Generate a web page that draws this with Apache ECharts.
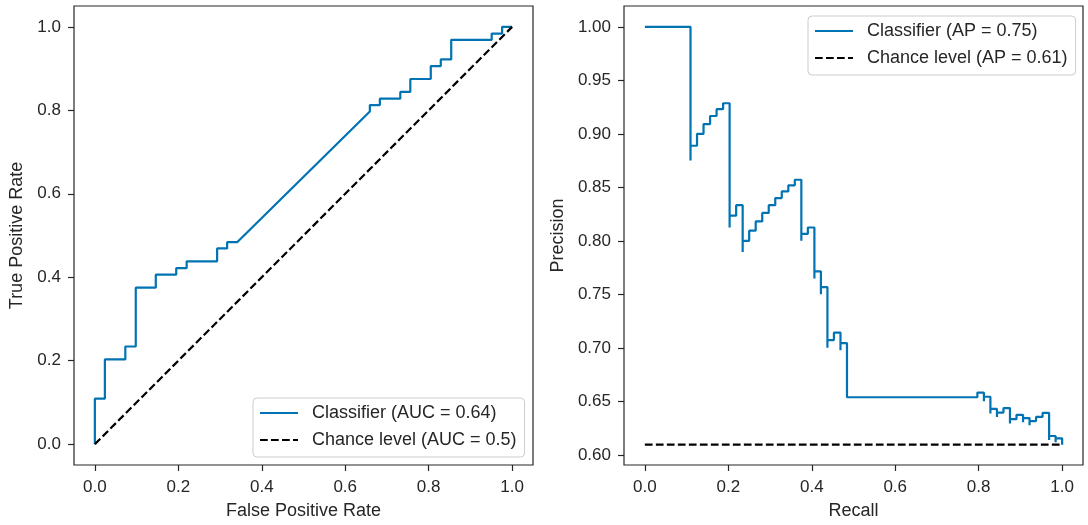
<!DOCTYPE html>
<html>
<head>
<meta charset="utf-8">
<script src="https://cdn.jsdelivr.net/npm/echarts@6/dist/echarts.min.js"></script>
<style>
  html, body { margin: 0; padding: 0; background: #ffffff; }
  #chart { width: 1088px; height: 525px; }
</style>
</head>
<body>
<div id="chart"></div>
<script>
// ROC curve (false positive rate, true positive rate)
const rocFpr = [0, 0, 0.024, 0.024, 0.073, 0.073, 0.098, 0.098, 0.146, 0.146,
  0.195, 0.195, 0.220, 0.220, 0.293, 0.293, 0.317, 0.317, 0.341, 0.659,
  0.659, 0.683, 0.683, 0.732, 0.732, 0.756, 0.756, 0.805, 0.805, 0.829,
  0.829, 0.854, 0.854, 0.951, 0.951, 0.976, 0.976, 1.0];
const rocTpr = [0, 0.109, 0.109, 0.203, 0.203, 0.234, 0.234, 0.375, 0.375, 0.406,
  0.406, 0.422, 0.422, 0.438, 0.438, 0.469, 0.469, 0.484, 0.484, 0.797,
  0.8125, 0.8125, 0.828, 0.828, 0.844, 0.844, 0.875, 0.875, 0.906, 0.906,
  0.922, 0.922, 0.969, 0.969, 0.984, 0.984, 1.0, 1.0];

// Precision-recall curve (increasing recall)
const prRecall = [0, 0.1094, 0.1094, 0.125, 0.1406, 0.1563, 0.1719, 0.1875, 0.2031, 0.2031,
  0.2031, 0.2188, 0.2344, 0.2344, 0.25, 0.2656, 0.2813, 0.2969, 0.3125, 0.3281,
  0.3438, 0.3594, 0.375, 0.375, 0.375, 0.3906, 0.4063, 0.4063, 0.4063, 0.4219,
  0.4219, 0.4375, 0.4375, 0.4375, 0.4375, 0.4531, 0.4688, 0.4688, 0.4844, 0.4844,
  0.7969, 0.8125, 0.8125, 0.8281, 0.8281, 0.8281, 0.8438, 0.8438, 0.8594, 0.875,
  0.875, 0.875, 0.8906, 0.9063, 0.9063, 0.9219, 0.9219, 0.9375, 0.9531, 0.9688,
  0.9688, 0.9688, 0.9688, 0.9688, 0.9844, 0.9844, 1.0, 1.0];
const prPrecision = [1.0, 1.0, 0.875, 0.8889, 0.9, 0.9091, 0.9167, 0.9231, 0.9286, 0.8667,
  0.8125, 0.8235, 0.8333, 0.7895, 0.8, 0.8095, 0.8182, 0.8261, 0.8333, 0.84,
  0.8462, 0.8519, 0.8571, 0.8276, 0.8, 0.8065, 0.8125, 0.7879, 0.7647, 0.7714,
  0.75, 0.7568, 0.7368, 0.7179, 0.7, 0.7073, 0.7143, 0.6977, 0.7045, 0.6889,
  0.6538, 0.6582, 0.65, 0.6543, 0.6463, 0.6386, 0.6429, 0.6353, 0.6395, 0.6437,
  0.6364, 0.6292, 0.6333, 0.6374, 0.6304, 0.6344, 0.6277, 0.6316, 0.6354, 0.6392,
  0.6327, 0.6263, 0.62, 0.6139, 0.6176, 0.6117, 0.6154, 0.6095];

// Chance level lines
const chanceRocX = [0, 1];
const chanceRocY = [0, 1];
const chancePrX = [0, 1];
const chancePrY = [0.6095, 0.6095];

// Ticks
const unitTicks = [0, 0.2, 0.4, 0.6, 0.8, 1.0];
const precisionTicks = [0.60, 0.65, 0.70, 0.75, 0.80, 0.85, 0.90, 0.95, 1.00];

// Labels
const rocNames = ['Classifier (AUC = 0.64)', 'Chance level (AUC = 0.5)'];
const prNames = ['Classifier (AP = 0.75)', 'Chance level (AP = 0.61)'];

const FONT = '"Liberation Sans", Arial, sans-serif';
const TXT = '#262626';
const BLUE = '#0173b2';
const zip = (a, b) => a.map((v, i) => [v, b[i]]);

function valueAxis(opts, ticks, digits, margin) {
  return Object.assign({
    type: 'value',
    nameLocation: 'middle',
    nameTextStyle: { fontFamily: FONT, fontSize: 18, color: TXT },
    axisLine: { show: false, onZero: false },
    splitLine: { show: false },
    axisTick: { show: true, inside: false, length: 6, customValues: ticks, lineStyle: { color: TXT, width: 1.2 } },
    axisLabel: { fontFamily: FONT, fontSize: 17, color: TXT, margin: margin, customValues: ticks,
      formatter: v => v.toFixed(digits) }
  }, opts);
}

function legendOf(names, left, top) {
  return {
    orient: 'vertical',
    left: left, top: top,
    data: names,
    itemWidth: 38, itemHeight: 14, itemGap: 9,
    padding: [6, 8, 8, 6],
    backgroundColor: 'rgba(255,255,255,0.8)',
    borderColor: '#cccccc', borderWidth: 1, borderRadius: 4,
    itemStyle: { opacity: 0, color: 'rgba(0,0,0,0)', borderWidth: 0 },
    textStyle: { fontFamily: FONT, fontSize: 18, color: TXT, lineHeight: 18, padding: [0, 0, 0, 9] }
  };
}

const chart = echarts.init(document.getElementById('chart'), null, { renderer: 'canvas' });
chart.setOption({
  animation: false,
  backgroundColor: '#ffffff',
  grid: [
    { left: 74, top: 6, width: 459, height: 460, show: true, borderColor: TXT, borderWidth: 1.2, backgroundColor: 'transparent' },
    { left: 624, top: 6, width: 459, height: 460, show: true, borderColor: TXT, borderWidth: 1.2, backgroundColor: 'transparent' }
  ],
  xAxis: [
    valueAxis({ gridIndex: 0, min: -0.05, max: 1.05, name: 'False Positive Rate', nameGap: 37 }, unitTicks, 1, 14),
    valueAxis({ gridIndex: 1, min: -0.05, max: 1.05, name: 'Recall', nameGap: 37 }, unitTicks, 1, 14)
  ],
  yAxis: [
    valueAxis({ gridIndex: 0, min: -0.05, max: 1.05, name: 'True Positive Rate', nameGap: 48 }, unitTicks, 1, 13),
    valueAxis({ gridIndex: 1, min: 0.5905, max: 1.0195, name: 'Precision', nameGap: 57 }, precisionTicks, 2, 13)
  ],
  legend: [
    legendOf(rocNames, 253, 398),
    legendOf(prNames, 808, 16)
  ],
  series: [
    { name: rocNames[0], type: 'line', xAxisIndex: 0, yAxisIndex: 0, data: zip(rocFpr, rocTpr),
      symbol: 'none', lineStyle: { color: BLUE, width: 2.2 }, itemStyle: { color: BLUE } },
    { name: rocNames[1], type: 'line', xAxisIndex: 0, yAxisIndex: 0, data: zip(chanceRocX, chanceRocY),
      symbol: 'none', lineStyle: { color: '#000000', width: 2.2, type: [7.7, 3.3] }, itemStyle: { color: '#000000' } },
    { name: prNames[0], type: 'line', xAxisIndex: 1, yAxisIndex: 1, data: zip(prRecall, prPrecision), step: 'start',
      symbol: 'none', lineStyle: { color: BLUE, width: 2.2 }, itemStyle: { color: BLUE } },
    { name: prNames[1], type: 'line', xAxisIndex: 1, yAxisIndex: 1, data: zip(chancePrX, chancePrY),
      symbol: 'none', lineStyle: { color: '#000000', width: 2.2, type: [7.7, 3.3] }, itemStyle: { color: '#000000' } }
  ]
});
</script>
</body>
</html>
